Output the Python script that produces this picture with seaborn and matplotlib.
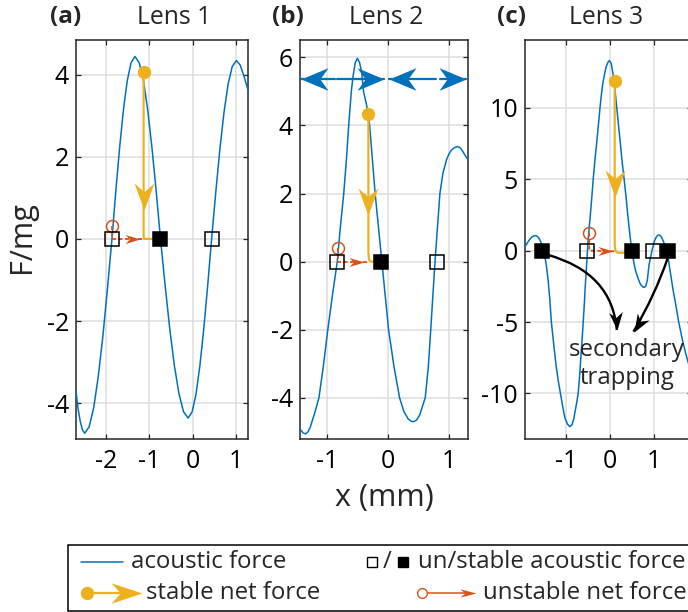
import matplotlib
matplotlib.use("Agg")
import matplotlib.pyplot as plt
import seaborn as sns
from matplotlib.markers import MarkerStyle
from matplotlib.path import Path
from matplotlib.patches import PathPatch, Rectangle
from matplotlib.transforms import Affine2D
import numpy as np

sns.set_theme(style="ticks")
plt.rcParams['font.family'] = ['Open Sans', 'DejaVu Sans']
plt.rcParams['axes.unicode_minus'] = False

BLUE = '#0072BD'
RED = '#D95319'
YEL = '#EDB120'
DARK = '#262626'

# ---- acoustic force curves ----
a_x = [-2.69, -2.64, -2.59, -2.54, -2.49, -2.385, -2.28, -2.175, -2.07, -1.965, -1.86,
       -1.772, -1.683, -1.595, -1.507, -1.418, -1.33, -1.232, -1.133, -1.035, -0.937,
       -0.838, -0.74, -0.633, -0.527, -0.42, -0.313, -0.207, -0.10, -0.01, 0.08, 0.17,
       0.26, 0.35, 0.44, 0.535, 0.63, 0.725, 0.82, 0.915, 1.01, 1.10, 1.19, 1.28]
a_y = [-3.71, -4.15, -4.45, -4.65, -4.73, -4.57, -4.10, -3.34, -2.37, -1.22, 0.00,
       1.15, 2.22, 3.14, 3.85, 4.29, 4.44, 4.29, 3.85, 3.14, 2.22,
       1.15, 0.00, -1.13, -2.18, -3.08, -3.77, -4.21, -4.36, -4.21, -3.78, -3.08,
       -2.18, -1.13, 0.00, 1.12, 2.17, 3.07, 3.76, 4.19, 4.34, 4.23, 3.95, 3.62]

b_x = [-1.43, -1.39, -1.35, -1.31, -1.27, -1.20, -1.13, -1.06, -0.985, -0.91, -0.83,
       -0.78, -0.724, -0.68, -0.643, -0.60, -0.571, -0.535, -0.50, -0.465, -0.43, -0.40,
       -0.35, -0.30, -0.255, -0.21, -0.155, -0.10, -0.045, 0.01, 0.10, 0.19, 0.26, 0.33,
       0.38, 0.42, 0.47, 0.52, 0.61, 0.66, 0.70, 0.735, 0.77, 0.81, 0.85, 0.90, 0.96,
       1.00, 1.04, 1.09, 1.135, 1.18, 1.22, 1.26, 1.31]
b_y = [-4.94, -5.03, -5.06, -5.00, -4.85, -4.45, -4.00, -3.10, -2.00, -1.00, 0.00,
       1.00, 2.00, 3.00, 4.00, 5.00, 5.45, 5.85, 5.97, 5.85, 5.55, 5.00,
       4.60, 4.00, 3.00, 2.00, 1.00, 0.00, -1.00, -2.00, -3.10, -4.00, -4.40, -4.62,
       -4.69, -4.70, -4.65, -4.50, -4.00, -3.10, -2.00, -1.00, 0.00, 1.00, 2.00, 2.60, 3.00,
       3.17, 3.28, 3.35, 3.38, 3.35, 3.25, 3.13, 2.99]

c_x = [-1.92, -1.88, -1.84, -1.80, -1.76, -1.72, -1.68, -1.64, -1.60, -1.56, -1.52,
       -1.48, -1.44, -1.40, -1.36, -1.325, -1.27, -1.22, -1.17, -1.12, -1.07, -1.02,
       -0.96, -0.909, -0.86, -0.82, -0.78, -0.75, -0.72, -0.69, -0.66, -0.63, -0.606,
       -0.58, -0.56, -0.535, -0.51, -0.48, -0.445, -0.41, -0.38, -0.34, -0.30, -0.26,
       -0.227, -0.20, -0.17, -0.14, -0.114, -0.09, -0.06, -0.035, -0.015, 0.01, 0.03,
       0.06, 0.10, 0.152, 0.19, 0.23, 0.27, 0.318, 0.36, 0.40, 0.445, 0.49, 0.53, 0.56,
       0.60, 0.64, 0.675, 0.71, 0.745, 0.78, 0.81, 0.84, 0.88, 0.915, 0.947, 0.975, 1.00,
       1.04, 1.075, 1.11, 1.145, 1.18, 1.23, 1.288, 1.35, 1.42, 1.49, 1.55, 1.63, 1.70,
       1.77, 1.85]
c_y = [0.28, 0.48, 0.67, 0.84, 0.96, 1.03, 1.05, 1.00, 0.85, 0.58, 0.22,
       -0.25, -1.00, -2.00, -3.40, -5.00, -6.60, -8.00, -9.10, -10.00, -10.90, -11.70,
       -12.15, -12.32, -12.20, -11.80, -11.10, -10.60, -10.00, -8.90, -7.50, -6.20, -5.00,
       -3.70, -2.50, -1.30, 0.00, 1.30, 2.50, 3.80, 5.00, 6.40, 7.60, 8.90,
       10.00, 10.80, 11.60, 12.10, 12.50, 12.85, 13.10, 13.25, 13.30, 13.22, 13.05,
       12.50, 11.60, 10.00, 8.80, 7.60, 6.30, 5.00, 3.80, 2.50, 1.20, 0.00, -0.70, -1.20,
       -1.65, -2.00, -2.28, -2.45, -2.55, -2.57, -2.45, -2.10, -1.00, -0.45, 0.00, 0.35, 0.65,
       0.93, 1.07, 1.10, 1.02, 0.82, 0.45, 0.00, -1.30, -2.70, -3.90, -5.00, -6.20, -7.10,
       -7.89, -8.80]

# equilibrium points (F = 0)
a_unstable = [-1.87, 0.45]
a_stable = [-0.74]
b_unstable = [-0.83, 0.80]
b_stable = [-0.11]
c_unstable = [-0.515, 0.96]
c_stable = [-1.53, 0.49, 1.30]

# net force trajectories
a_yel_x = [-1.13, -1.13, -1.12, -0.74]
a_yel_y = [4.05, 0.08, 0.0, 0.0]
a_red_x = [-1.85, -1.85, -1.15]
a_red_y = [0.32, 0.0, 0.0]
b_yel_x = [-0.32, -0.32, -0.31, -0.28, -0.11]
b_yel_y = [4.34, 0.25, 0.06, 0.0, 0.0]
b_red_x = [-0.82, -0.82, -0.32]
b_red_y = [0.41, 0.0, 0.0]
c_yel_x = [0.105, 0.105, 0.12, 0.17, 0.49]
c_yel_y = [11.88, 0.45, 0.0, -0.15, -0.15]
c_red_x = [-0.47, -0.47, 0.11]
c_red_y = [1.26, 0.0, -0.05]

yel_tip = {'a': (-1.13, 0.71), 'b': (-0.32, 1.37), 'c': (0.105, 3.78)}
red_tip = {'a': (-1.22, 0.0), 'b': (-0.40, 0.0), 'c': (0.075, -0.05)}

# blue direction arrows in (b): (start, tip)
b_arrow_y = 5.36
b_arrows = [(-0.87, -1.43), (-0.84, -0.07), (0.79, 0.02), (0.85, 1.28)]

# secondary trapping arrows in (c): start, control, tip
c_arcs = [((-1.40, -0.30), (0.045, -1.56), (0.152, -5.55)),
          ((1.30, -0.53), (1.02, -3.10), (0.53, -5.67))]


def head(angle, half=0.35, notch=0.3):
    verts = [(0, 0), (-1, half), (-1 + notch, 0), (-1, -half), (0, 0)]
    codes = [Path.MOVETO, Path.LINETO, Path.LINETO, Path.LINETO, Path.CLOSEPOLY]
    return MarkerStyle(Path(verts, codes), transform=Affine2D().rotate_deg(angle))


def px2pt(p):
    return p / 1.389


fig = plt.figure(figsize=(6.88, 6.12), dpi=100)


def pos(l, r, t=40, b=439):
    return [l / 688, 1 - b / 612, (r - l) / 688, (b - t) / 612]


panels = [
    dict(key='a', rect=pos(76, 248), xlim=(-2.69, 1.28), ylim=(-4.87, 4.84),
         xt=[-2, -1, 0, 1], yt=[-4, -2, 0, 2, 4], x=a_x, y=a_y,
         un=a_unstable, st=a_stable, yx=a_yel_x, yy=a_yel_y, rx=a_red_x, ry=a_red_y),
    dict(key='b', rect=pos(300, 468), xlim=(-1.44, 1.31), ylim=(-5.21, 6.51),
         xt=[-1, 0, 1], yt=[-4, -2, 0, 2, 4, 6], x=b_x, y=b_y,
         un=b_unstable, st=b_stable, yx=b_yel_x, yy=b_yel_y, rx=b_red_x, ry=b_red_y),
    dict(key='c', rect=pos(525, 692), xlim=(-1.92, 1.85), ylim=(-13.19, 14.75),
         xt=[-1, 0, 1], yt=[-10, -5, 0, 5, 10], x=c_x, y=c_y,
         un=c_unstable, st=c_stable, yx=c_yel_x, yy=c_yel_y, rx=c_red_x, ry=c_red_y),
]

axes = {}
for p in panels:
    ax = fig.add_axes(p['rect'])
    axes[p['key']] = ax
    ax.set_xlim(*p['xlim'])
    ax.set_ylim(*p['ylim'])
    ax.set_xticks(p['xt'])
    ax.set_yticks(p['yt'])
    ax.grid(True, color='#dedede', lw=1.1)
    ax.set_axisbelow(True)
    for s in ax.spines.values():
        s.set_visible(True)
        s.set_color(DARK)
        s.set_linewidth(1.1)
    ax.tick_params(direction='in', length=3.6, width=0.9, color=DARK, top=True,
                   right=True, labelsize=18, labelcolor='black')
    ax.tick_params(axis='x', pad=7)
    ax.tick_params(axis='y', pad=5)

    sns.lineplot(x=p['x'], y=p['y'], ax=ax, color=BLUE, lw=1.1, sort=False,
                 estimator=None, zorder=3)

    # unstable net force (red)
    ax.plot(p['rx'], p['ry'], color=RED, lw=1.3, dashes=(2.2, 1.4), zorder=4)
    ax.plot([p['rx'][0]], [p['ry'][0]], 'o', ms=8.6, mfc='none', mec=RED, mew=1.1, zorder=6)
    tx, ty = red_tip[p['key']]
    ax.plot([tx], [ty], marker=head(0, half=0.3), ms=2 * px2pt(15), color=RED, mew=0,
            ls='none', zorder=5)

    # stable net force (yellow)
    ax.plot(p['yx'], p['yy'], color=YEL, lw=1.6, zorder=4)
    ax.plot([p['yx'][0]], [p['yy'][0]], 'o', ms=9.6, color=YEL, mew=0, zorder=6)
    tx, ty = yel_tip[p['key']]
    ax.plot([tx], [ty], marker=head(-90, half=0.37, notch=0.32), ms=2 * px2pt(27), color=YEL,
            mew=0, ls='none', zorder=5)

    # equilibrium squares
    ax.plot(p['un'], [0] * len(p['un']), 's', ms=10, mfc='none', mec='black', mew=1.1, zorder=7)
    ax.plot(p['st'], [0] * len(p['st']), 's', ms=10, mfc='black', mec='black', mew=1.1, zorder=7)

# blue arrows in (b)
axb = axes['b']
for x0, x1 in b_arrows:
    axb.plot([x0, x1], [b_arrow_y, b_arrow_y], color=BLUE, lw=1.6, zorder=5)
    ang = 0 if x1 > x0 else 180
    axb.plot([x1], [b_arrow_y], marker=head(ang, half=0.42, notch=0.3), ms=2 * px2pt(27),
             color=BLUE, mew=0, ls='none', zorder=5)

# secondary trapping arrows in (c)
axc = axes['c']
for p0, ctrl, tip in c_arcs:
    path = Path([p0, ctrl, tip], [Path.MOVETO, Path.CURVE3, Path.CURVE3])
    axc.add_patch(PathPatch(path, fc='none', ec='black', lw=1.7, zorder=8))
    d0 = axc.transData.transform(ctrl)
    d1 = axc.transData.transform(tip)
    ang = np.degrees(np.arctan2(d1[1] - d0[1], d1[0] - d0[0]))
    axc.plot([tip[0]], [tip[1]], marker=head(ang, half=0.38, notch=0.3), ms=2 * px2pt(18),
             color='black', mew=0, ls='none', zorder=8)
axc.text(0.38, -7.95, 'secondary\ntrapping', ha='center', va='center', fontsize=17.3,
         linespacing=1.2, zorder=9)

# ---- overlay in pixel coordinates: titles, labels, legend ----
ov = fig.add_axes([0, 0, 1, 1], zorder=10)
ov.set_xlim(0, 688)
ov.set_ylim(612, 0)
ov.axis('off')
ov.patch.set_alpha(0)

for lab, lx, title, tx in [('(a)', 50, 'Lens 1', 173.7), ('(b)', 272, 'Lens 2', 386),
                           ('(c)', 497, 'Lens 3', 606)]:
    ov.text(lx, 17, lab, fontsize=17.5, fontweight='bold', ha='left', va='center')
    ov.text(tx, 17, title, fontsize=17.8, ha='center', va='center')

ov.text(384, 498, 'x (mm)', fontsize=22, ha='center', va='center')
ov.text(22, 237, 'F/mg', fontsize=22, ha='center', va='center', rotation=90)

# legend box
ov.add_patch(Rectangle((68.3, 545), 700, 66, fc='white', ec='black', lw=1.1))
r1, r2 = 561.7, 593.3
ov.plot([80.7, 122.7], [r1, r1], color=BLUE, lw=1.1)
ov.text(130.7, r1, 'acoustic force', fontsize=17.3, ha='left', va='center')

ov.plot([86.7, 125], [r2, r2], color=YEL, lw=1.6)
ov.plot([86.7], [r2], 'o', ms=9.6, color=YEL, mew=0)
ov.plot([141.7], [r2], marker=head(0, half=0.33), ms=2 * px2pt(31), color=YEL, mew=0, ls='none')
ov.text(146, r2, 'stable net force', fontsize=17.3, ha='left', va='center')

ov.plot([372], [r1], 's', ms=7.5, mfc='none', mec='black', mew=1.0)
ov.text(387, r1, '/', fontsize=17.3, ha='center', va='center')
ov.plot([402.5], [r1], 's', ms=7.5, mfc='black', mec='black', mew=1.0)
ov.text(418, r1, 'un/stable acoustic force', fontsize=17.3, ha='left', va='center')

ov.plot([422, 470], [r2, r2], color=RED, lw=1.1)
ov.plot([422], [r2], 'o', ms=7, mfc='white', mec=RED, mew=1.0)
ov.plot([476], [r2], marker=head(0, half=0.26), ms=2 * px2pt(16), color=RED, mew=0, ls='none')
ov.text(483, r2, 'unstable net force', fontsize=17.3, ha='left', va='center')

fig.savefig('out.png', dpi=100)
